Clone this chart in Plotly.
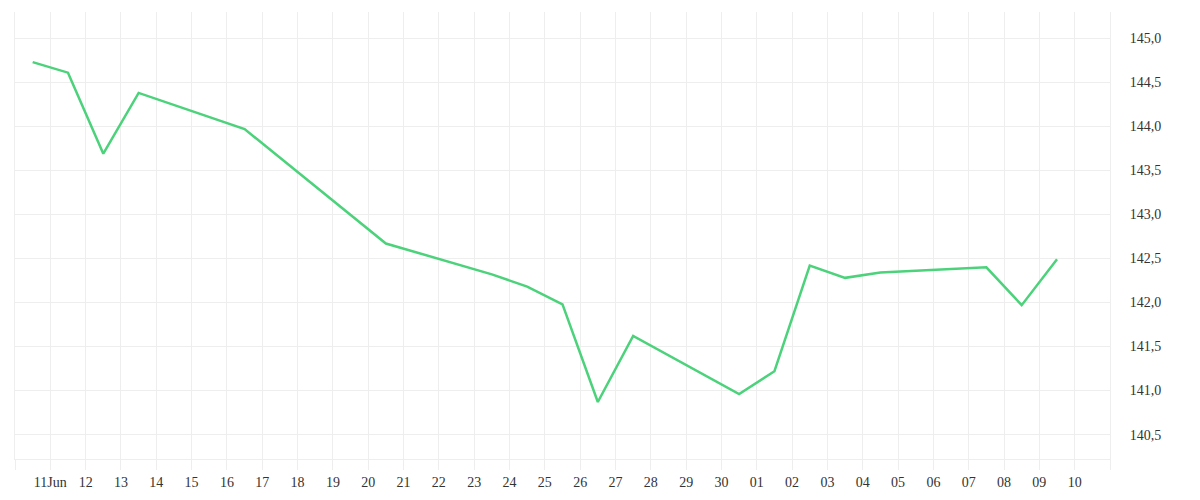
import plotly.graph_objects as go

# closing prices (sampled at midday)
dates = ["2024-06-10 12:00", "2024-06-11 12:00", "2024-06-12 12:00", "2024-06-13 12:00",
         "2024-06-16 12:00", "2024-06-20 12:00", "2024-06-23 12:00", "2024-06-24 12:00",
         "2024-06-25 12:00", "2024-06-26 12:00", "2024-06-27 12:00", "2024-06-30 12:00",
         "2024-07-01 12:00", "2024-07-02 12:00", "2024-07-03 12:00", "2024-07-04 12:00",
         "2024-07-07 12:00", "2024-07-08 12:00", "2024-07-09 12:00"]
prices = [144.73, 144.61, 143.69, 144.38, 143.97, 142.67, 142.32, 142.18,
          141.98, 140.87, 141.62, 140.96, 141.22, 142.42, 142.28, 142.34,
          142.40, 141.97, 142.49]

# day ticks
tick_days = ["2024-06-%02d" % d for d in range(10, 31)] + ["2024-07-%02d" % d for d in range(1, 12)]
tick_text = ["", "11Jun"] + [str(d) for d in range(12, 31)] + ["%02d" % d for d in range(1, 11)] + [""]

y_ticks = [140.5, 141.0, 141.5, 142.0, 142.5, 143.0, 143.5, 144.0, 144.5, 145.0]

grid = "#eeeeee"
font = dict(family="Liberation Serif", size=14, color="#333333")

fig = go.Figure()
fig.add_trace(go.Scatter(x=dates, y=prices, mode="lines",
                         line=dict(color="#4cd27b", width=2.5),
                         hoverinfo="x+y"))

# the page itself adds ~8px around the figure, so margins are trimmed accordingly
fig.update_layout(
    width=1200, height=500,
    margin=dict(l=7, r=98, t=4, b=49),
    paper_bgcolor="white", plot_bgcolor="white",
    separators=",.",
    showlegend=False,
    font=font,
    xaxis=dict(type="date", range=["2024-06-10", "2024-07-11"],
               tickmode="array", tickvals=tick_days, ticktext=tick_text,
               showgrid=True, gridcolor=grid, gridwidth=1,
               showline=True, linecolor=grid, linewidth=1,
               ticks="outside", ticklen=10, tickcolor=grid, tickwidth=1,
               zeroline=False, tickfont=font, automargin=False),
    yaxis=dict(side="right", range=[140.223, 145.299],
               tickmode="array", tickvals=y_ticks, tickformat=".1f",
               showgrid=True, gridcolor=grid, gridwidth=1,
               showline=True, mirror=True, linecolor=grid, linewidth=1,
               ticks="", ticklabelstandoff=16,
               zeroline=False, tickfont=font, automargin=False),
)

fig.write_html("out.html")
